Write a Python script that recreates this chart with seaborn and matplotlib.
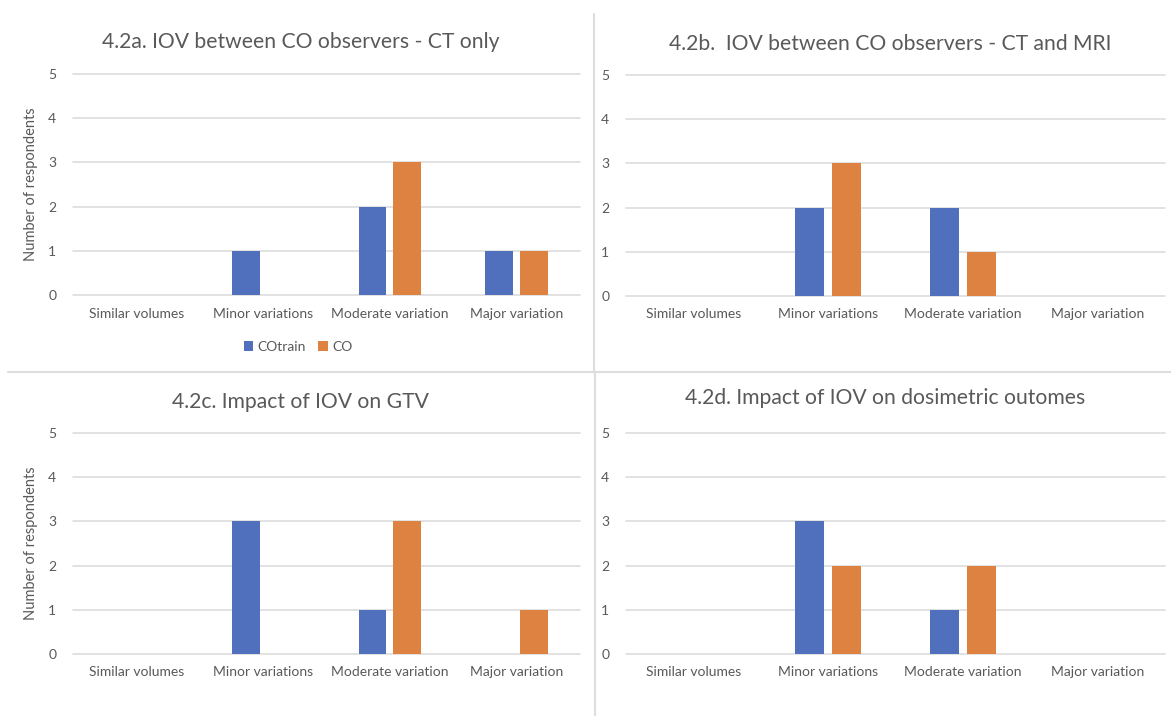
import matplotlib
matplotlib.use("Agg")
import matplotlib.pyplot as plt
from matplotlib.lines import Line2D
from matplotlib.patches import Patch
import seaborn as sns
import pandas as pd

# Survey responses: inter-observer variation (IOV) ratings
categories = ["Similar volumes", "Minor variations", "Moderate variation", "Major variation"]
groups = ["COtrain", "CO"]

ct_only_cotrain = [0, 1, 2, 1]
ct_only_co = [0, 0, 3, 1]

ct_mri_cotrain = [0, 2, 2, 0]
ct_mri_co = [0, 3, 1, 0]

gtv_cotrain = [0, 3, 1, 0]
gtv_co = [0, 0, 3, 1]

dosimetric_cotrain = [0, 3, 1, 0]
dosimetric_co = [0, 2, 2, 0]

titles = [
    "4.2a. IOV between CO observers - CT only",
    "4.2b.  IOV between CO observers - CT and MRI",
    "4.2c. Impact of IOV on GTV",
    "4.2d. Impact of IOV on dosimetric outomes",
]
y_label = "Number of respondents"

panels = [
    (ct_only_cotrain, ct_only_co),
    (ct_mri_cotrain, ct_mri_co),
    (gtv_cotrain, gtv_co),
    (dosimetric_cotrain, dosimetric_co),
]

BLUE = "#5070BE"
ORANGE = "#DE8242"
TEXT = "#595959"
GRID = "#DDDDDD"

sns.set_theme(style="white")
plt.rcParams["font.family"] = ["Lato", "DejaVu Sans"]

W, H = 1171, 718
fig = plt.figure(figsize=(W / 100, H / 100), dpi=100)
fig.patch.set_facecolor("white")


def px_axes(x0, x1, ytop, ybot):
    return fig.add_axes([x0 / W, 1 - ybot / H, (x1 - x0) / W, (ybot - ytop) / H])


# plot areas in pixel coordinates: (left, right, top gridline, zero line)
boxes = [
    (73, 580, 74, 295),
    (626, 1165, 75, 296),
    (73, 580, 433, 654),
    (626, 1165, 433, 654),
]
title_pos = [(301, 42), (890, 44), (300, 402), (885, 398)]

for i, ((cotrain, co), box) in enumerate(zip(panels, boxes)):
    ax = px_axes(*box)
    df = pd.DataFrame({
        "category": categories * 2,
        "group": [groups[0]] * 4 + [groups[1]] * 4,
        "count": list(cotrain) + list(co),
    })
    sns.barplot(
        data=df, x="category", y="count", hue="group",
        order=categories, hue_order=groups,
        palette=[BLUE, ORANGE], saturation=1, width=0.55, gap=0.2,
        linewidth=0, ax=ax, legend=False,
    )
    ax.set_ylim(0, 5)
    ax.set_yticks(range(6))
    ax.set_xlim(-0.5, 3.5)
    ax.yaxis.grid(True, color=GRID, linewidth=1.2)
    for gl in ax.yaxis.get_gridlines():
        gl.set_clip_on(False)
    ax.set_axisbelow(True)
    for s in ax.spines.values():
        s.set_visible(False)
    ax.tick_params(axis="both", length=0, colors=TEXT, labelsize=10)
    ax.tick_params(axis="y", pad=12)
    ax.tick_params(axis="x", pad=9)
    ax.set_xlabel("")
    if i in (0, 2):
        ax.set_ylabel(y_label, color=TEXT, fontsize=10.5, labelpad=7)
    else:
        ax.set_ylabel("")
    tx, ty = title_pos[i]
    fig.text(tx / W, 1 - ty / H, titles[i], ha="center", va="center",
             fontsize=15.2, color=TEXT)

# legend for the first panel
handles = [Patch(facecolor=BLUE, edgecolor="none"), Patch(facecolor=ORANGE, edgecolor="none")]
fig.legend(handles, groups, loc="center", bbox_to_anchor=(298 / W, 1 - 347 / H),
           ncol=2, frameon=False, fontsize=10, labelcolor=TEXT,
           handlelength=0.7, handleheight=0.7, handletextpad=0.3, columnspacing=0.9)

# panel separators
fig.add_artist(Line2D([594 / W, 594 / W], [1 - 14 / H, 1 - 371 / H], color=GRID, lw=1.5))
fig.add_artist(Line2D([595 / W, 595 / W], [1 - 373 / H, 1 - 715 / H], color=GRID, lw=1.5))
fig.add_artist(Line2D([8 / W, 1.0], [1 - 372 / H, 1 - 372 / H], color=GRID, lw=1.5))

fig.savefig("out.png", dpi=100, facecolor="white")
